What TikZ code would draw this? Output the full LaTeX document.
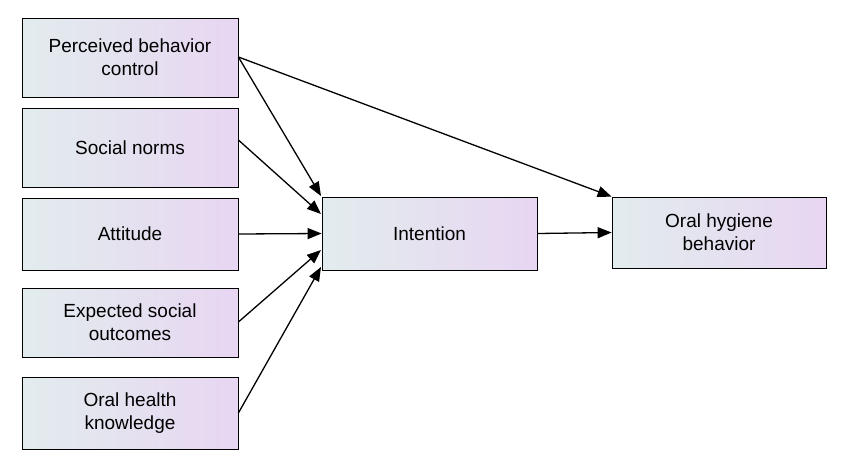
\documentclass[tikz,border=0pt]{standalone}
\usepackage{fontspec}
\setmainfont{Liberation Sans}
\usetikzlibrary{arrows.meta}
\definecolor{lc}{RGB}{226,236,238}
\definecolor{rc}{RGB}{232,214,242}
\begin{document}
\begin{tikzpicture}[x=1pt,y=-1pt,
 box/.style={draw=black,line width=0.8pt,left color=lc,right color=rc,align=center,font=\fontsize{19}{23}\selectfont,inner sep=0pt},
 arr/.style={-{Triangle[length=14pt,width=11pt]},line width=1.3pt}]
\useasboundingbox (0,0) rectangle (850,469);
\node[box,minimum width=216,minimum height=79] (a) at (130,57.5) {Perceived behavior\\control};
\node[box,minimum width=216,minimum height=79] (b) at (130,147.5) {Social norms};
\node[box,minimum width=216,minimum height=72] (c) at (130,234) {Attitude};
\node[box,minimum width=216,minimum height=69] (d) at (130,322.5) {Expected social\\outcomes};
\node[box,minimum width=216,minimum height=72] (e) at (130,413) {Oral health\\knowledge};
\node[box,minimum width=215,minimum height=73] (i) at (429.5,233.5) {Intention};
\node[box,minimum width=214,minimum height=71] (o) at (719,232.5) {Oral hygiene\\behavior};
\draw[arr] (a.east |- 0,57) -- (321,196);
\draw[arr] (b.east |- 0,140) -- (321,214);
\draw[arr] (c.east) -- (i.west);
\draw[arr] (d.east |- 0,322) -- (321,250);
\draw[arr] (e.east |- 0,413) -- (321,267);
\draw[arr] (a.east |- 0,57) -- (o.north west);
\draw[arr] (i.east) -- (o.west);
\end{tikzpicture}
\end{document}
